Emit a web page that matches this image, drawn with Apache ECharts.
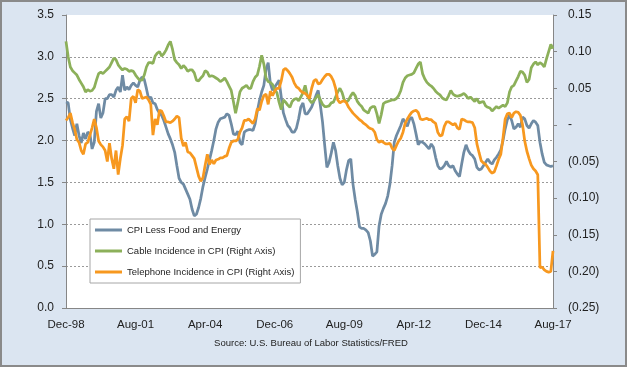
<!DOCTYPE html>
<html><head><meta charset="utf-8">
<script src="https://cdn.jsdelivr.net/npm/echarts@6/dist/echarts.min.js"></script>
<style>html,body{margin:0;padding:0;background:#dbe5f1;}#c{width:627px;height:367px;}</style>
</head><body><div id="c"></div>
<script>
// Monthly categories Dec-98 .. Aug-17
const monthNames = ['Jan','Feb','Mar','Apr','May','Jun','Jul','Aug','Sep','Oct','Nov','Dec'];
const startYear = 1998, startMonth = 11, monthCount = 225;
const categories = [];
for (let i = 0; i < monthCount; i++) {
  const m = (startMonth + i) % 12, y = startYear + Math.floor((startMonth + i) / 12);
  categories.push(monthNames[m] + '-' + String(y % 100).padStart(2, '0'));
}
const xTickLabels = ['Dec-98','Aug-01','Apr-04','Dec-06','Aug-09','Apr-12','Dec-14','Aug-17'];

const seriesNames = ['CPI Less Food and Energy','Cable Incidence in CPI (Right Axis)','Telephone Incidence in CPI (Right Axis)'];

// CPI less food and energy, % (left axis)
const cpiCore = [
2.46,2.45,2.25,2.15,2.06,2.20,2.06,1.97,2.09,2.02,
2.10,2.08,1.90,1.98,2.35,2.44,2.27,2.33,2.50,2.50,
2.55,2.55,2.52,2.60,2.64,2.58,2.78,2.60,2.64,2.61,
2.66,2.69,2.66,2.64,2.72,2.76,2.73,2.62,2.50,2.52,
2.45,2.44,2.37,2.33,2.30,2.24,2.16,2.08,2.02,1.95,
1.86,1.70,1.55,1.50,1.48,1.42,1.36,1.30,1.18,1.10,
1.12,1.20,1.31,1.45,1.56,1.66,1.77,1.88,2.00,2.14,
2.22,2.26,2.27,2.28,2.32,2.30,2.20,2.08,2.07,2.11,
1.98,1.95,2.10,2.12,2.13,2.13,2.12,2.20,2.35,2.48,
2.58,2.66,2.85,2.93,2.68,2.60,2.64,2.68,2.72,2.52,
2.33,2.25,2.18,2.15,2.10,2.10,2.15,2.26,2.40,2.45,
2.32,2.32,2.36,2.40,2.47,2.54,2.60,2.42,2.22,1.94,
1.68,1.74,1.85,1.98,1.88,1.70,1.55,1.47,1.50,1.65,
1.76,1.78,1.48,1.30,1.15,0.97,0.95,0.95,0.93,0.90,
0.80,0.62,0.64,0.67,0.98,1.12,1.19,1.25,1.34,1.48,
1.70,1.98,2.06,2.12,2.18,2.26,2.22,2.17,2.25,2.28,
2.20,2.08,1.95,1.99,1.98,1.96,1.93,1.90,1.96,1.92,
1.80,1.70,1.66,1.67,1.70,1.75,1.70,1.68,1.70,1.64,
1.60,1.57,1.72,1.86,1.95,1.88,1.84,1.82,1.78,1.68,
1.65,1.66,1.70,1.74,1.78,1.74,1.72,1.77,1.80,1.84,
1.89,2.00,2.14,2.25,2.30,2.24,2.14,2.16,2.20,2.16,
2.28,2.26,2.18,2.15,2.20,2.24,2.22,2.18,1.98,1.84,
1.74,1.71,1.70,1.69,1.70
];

// Cable incidence in CPI (right axis)
const cableIncidence = [
0.114,0.093,0.079,0.074,0.071,0.068,0.062,0.057,0.052,0.045,
0.048,0.046,0.047,0.051,0.061,0.070,0.072,0.070,0.073,0.076,
0.079,0.085,0.091,0.089,0.082,0.078,0.075,0.077,0.076,0.073,
0.074,0.073,0.068,0.064,0.061,0.061,0.068,0.079,0.085,0.085,
0.084,0.094,0.098,0.100,0.094,0.097,0.102,0.109,0.114,0.103,
0.089,0.085,0.082,0.077,0.081,0.078,0.073,0.075,0.075,0.071,
0.061,0.060,0.064,0.067,0.074,0.072,0.066,0.067,0.066,0.064,
0.062,0.059,0.061,0.064,0.059,0.053,0.047,0.032,0.016,0.030,
0.045,0.050,0.052,0.054,0.050,0.050,0.059,0.065,0.068,0.080,
0.095,0.083,0.064,0.059,0.058,0.055,0.048,0.044,0.031,0.021,
0.034,0.031,0.027,0.024,0.032,0.035,0.036,0.033,0.038,0.044,
0.054,0.040,0.034,0.030,0.033,0.037,0.041,0.034,0.028,0.025,
0.025,0.026,0.030,0.031,0.038,0.045,0.050,0.044,0.034,0.031,
0.034,0.040,0.044,0.040,0.032,0.028,0.025,0.020,0.018,0.016,
0.023,0.025,0.025,0.015,0.002,0.014,0.029,0.031,0.032,0.033,
0.034,0.034,0.036,0.040,0.047,0.058,0.064,0.067,0.068,0.069,
0.071,0.077,0.083,0.086,0.070,0.063,0.058,0.055,0.053,0.050,
0.046,0.043,0.041,0.037,0.035,0.034,0.040,0.047,0.042,0.040,
0.039,0.040,0.041,0.043,0.040,0.036,0.038,0.035,0.032,0.036,
0.030,0.031,0.032,0.026,0.024,0.023,0.019,0.022,0.025,0.023,
0.025,0.027,0.025,0.030,0.045,0.052,0.054,0.060,0.066,0.073,
0.072,0.068,0.058,0.062,0.078,0.083,0.086,0.082,0.085,0.083,
0.079,0.090,0.100,0.110,0.104
];

// Telephone incidence in CPI (right axis)
const phoneIncidence = [
0.006,0.010,0.016,0.003,-0.006,-0.020,-0.024,-0.035,-0.040,-0.026,
-0.024,-0.014,-0.004,0.008,-0.004,-0.022,-0.027,-0.030,-0.035,-0.050,
-0.025,-0.046,-0.060,-0.035,-0.068,-0.046,-0.028,0.008,0.011,0.005,
0.036,0.039,0.030,0.048,0.046,0.036,0.037,0.038,0.034,0.028,
-0.014,0.008,0.000,0.020,0.019,0.012,0.004,0.004,0.003,0.005,
0.008,0.012,0.010,-0.018,-0.029,-0.024,-0.037,-0.038,-0.042,-0.046,
-0.058,-0.070,-0.077,-0.072,-0.055,-0.040,-0.054,-0.048,-0.053,-0.048,
-0.047,-0.045,-0.045,-0.043,-0.042,-0.032,-0.024,-0.022,-0.022,-0.020,
-0.010,-0.004,0.006,0.006,0.008,0.005,0.002,0.008,0.022,0.020,
0.032,0.040,0.042,0.028,0.046,0.040,0.046,0.050,0.050,0.060,
0.075,0.077,0.074,0.070,0.065,0.057,0.052,0.050,0.046,0.044,
0.043,0.040,0.036,0.050,0.060,0.062,0.056,0.057,0.062,0.066,
0.069,0.069,0.066,0.060,0.050,0.034,0.030,0.032,0.033,0.030,
0.024,0.020,0.016,0.013,0.010,0.007,0.005,0.002,0.000,-0.003,
-0.005,-0.006,-0.010,-0.020,-0.024,-0.022,-0.024,-0.026,-0.026,-0.025,
-0.032,-0.035,-0.028,-0.022,-0.018,-0.010,0.002,0.008,0.013,0.017,
0.019,0.020,0.017,0.008,0.007,0.008,0.009,0.007,0.007,0.004,
0.002,-0.010,-0.015,-0.014,-0.002,0.004,0.004,0.002,0.000,0.002,
-0.004,-0.006,0.008,0.007,0.005,0.004,0.004,0.003,-0.004,-0.026,
-0.038,-0.049,-0.052,-0.054,-0.058,-0.063,-0.066,-0.064,-0.056,-0.047,
-0.040,-0.018,0.008,0.015,0.016,0.010,0.016,0.018,0.017,0.013,
0.000,-0.022,-0.036,-0.046,-0.055,-0.060,-0.063,-0.068,-0.195,-0.194,
-0.198,-0.200,-0.201,-0.200,-0.172
];

const sourceText = 'Source: U.S. Bureau of Labor Statistics/FRED';
const colors = ['#6f8ba4', '#8cb05a', '#f7981f'];
const FONT = '"Liberation Sans", Arial, sans-serif';
const TXT = '#222222';

const chart = echarts.init(document.getElementById('c'), null, {renderer: 'canvas'});
chart.setOption({
  animation: false,
  backgroundColor: '#dbe5f1',
  color: colors,
  grid: {left: 66, right: 74, top: 15, bottom: 59, show: true, backgroundColor: '#ffffff', borderWidth: 0, containLabel: false},
  legend: {
    orient: 'vertical', left: 90, top: 219, padding: [4, 6, 4, 5], itemGap: 7,
    itemWidth: 27, itemHeight: 3, icon: 'rect',
    backgroundColor: '#ffffff', borderColor: '#a6a6a6', borderWidth: 1,
    textStyle: {fontFamily: FONT, fontSize: 9.5, color: TXT, lineHeight: 14},
    data: seriesNames
  },
  xAxis: {
    type: 'category', data: categories, boundaryGap: false,
    axisLine: {lineStyle: {color: '#868686', width: 1}},
    axisTick: {show: false},
    axisLabel: {
      interval: 31, margin: 11, fontFamily: FONT, fontSize: 11.5, color: TXT,
      formatter: v => xTickLabels.includes(v) ? v : ''
    },
    splitLine: {show: false}
  },
  yAxis: [
    {
      type: 'value', min: 0, max: 3.5, interval: 0.5, position: 'left',
      axisLine: {show: true, lineStyle: {color: '#868686', width: 1}},
      axisTick: {show: true, length: 4, lineStyle: {color: '#868686'}},
      axisLabel: {margin: 12, fontFamily: FONT, fontSize: 12, color: TXT, formatter: v => v.toFixed(1)},
      splitLine: {show: true, lineStyle: {type: [2, 2], width: 1,
        color: ['transparent', '#9a9a9a', '#9a9a9a', '#9a9a9a', '#9a9a9a', '#9a9a9a', '#9a9a9a', 'transparent']}}
    },
    {
      type: 'value', min: -0.25, max: 0.15, interval: 0.05, position: 'right',
      axisLine: {show: true, lineStyle: {color: '#868686', width: 1}},
      axisTick: {show: true, length: 4, lineStyle: {color: '#868686'}},
      axisLabel: {margin: 15, fontFamily: FONT, fontSize: 12, color: TXT, align: 'left',
        formatter: v => Math.abs(v) < 1e-9 ? '-' : (v < 0 ? '(' + (-v).toFixed(2) + ')' : v.toFixed(2))},
      splitLine: {show: false}
    }
  ],
  series: [
    {name: seriesNames[0], type: 'line', yAxisIndex: 0, data: cpiCore, symbol: 'none', lineStyle: {width: 2.75, color: colors[0]}, itemStyle: {color: colors[0]}},
    {name: seriesNames[1], type: 'line', yAxisIndex: 1, data: cableIncidence, symbol: 'none', lineStyle: {width: 2.75, color: colors[1]}, itemStyle: {color: colors[1]}},
    {name: seriesNames[2], type: 'line', yAxisIndex: 1, data: phoneIncidence, symbol: 'none', lineStyle: {width: 2.75, color: colors[2]}, itemStyle: {color: colors[2]}}
  ],
  graphic: [
    {type: 'text', x: 311, y: 343, style: {text: sourceText, fontFamily: FONT, fontSize: 9.5, fill: TXT, align: 'center', verticalAlign: 'middle'}},
    {type: 'rect', shape: {x: 1, y: 1, width: 625, height: 365}, style: {fill: 'none', stroke: '#8a8a8a', lineWidth: 2}, silent: true, z: 100}
  ]
});
</script>
</body></html>
